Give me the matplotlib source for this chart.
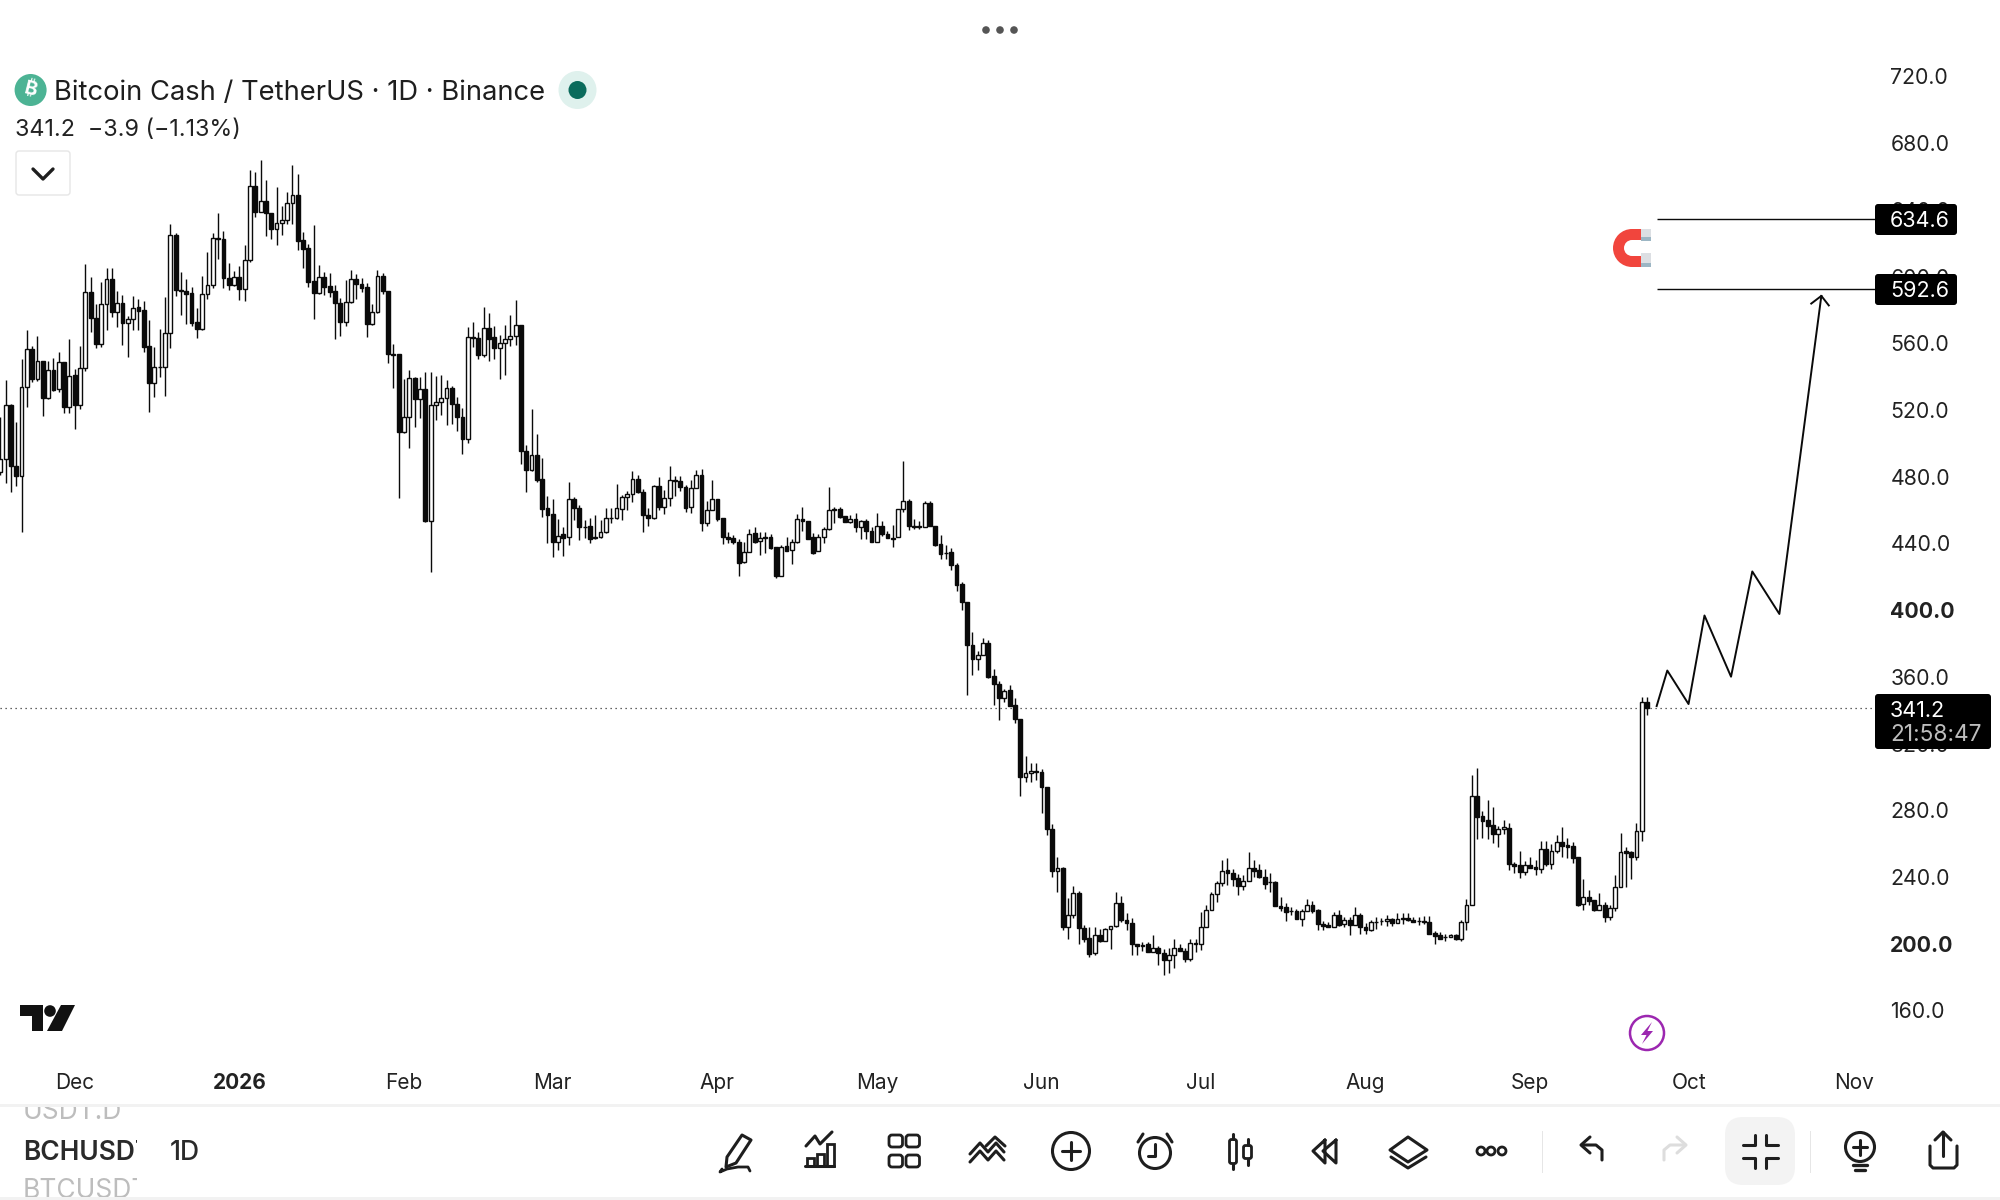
import numpy as np
import matplotlib
matplotlib.use("Agg")
import matplotlib.pyplot as plt
from matplotlib.patches import Circle, FancyBboxPatch, Rectangle, Wedge, Polygon

plt.rcParams['font.family'] = ['Inter', 'DejaVu Sans']

# candles, one per day, oldest first
open_read = [484.4,491.7,524.2,487.7,482,534.7,557.4,539.9,550.2,528.1,
544.9,533.5,549.6,522.8,541.9,524,546.1,591.4,575.9,560.4,
584.3,599.2,579.9,585.3,573.3,575.3,582.5,580.7,559.4,537.1,
546.8,547,566.9,625.5,592.6,592,590.8,573.5,569.3,590.2,
595.6,623.7,623.1,599.8,596,600.4,593.6,610.5,654.7,639.6,
645.8,638.6,629.4,632.6,634.8,644.6,649.2,622.7,617.7,598.2,
591.2,600.4,595.2,592.2,584.8,573.9,585.4,599.6,596.2,594.4,
572.7,579.5,601,592,554.8,554.4,508.2,517.2,540.5,527.9,
533.5,454.9,524,526.1,528.1,534.1,524.9,517.2,504,564.6,
564,554.2,569.9,564.6,558.4,561,563.4,565.1,571.7,496.9,
485.4,494.1,479.8,462.5,459.1,442.6,447.1,445.2,467.9,462.5,
451.5,452,444.6,445.6,448.2,456.5,456.5,461.9,469,470.9,
479.8,472,458.3,456.9,475.6,463.5,468.5,479.2,478.6,475,
463.1,474.4,482.2,453.9,461.3,467.9,456.7,445.6,444.6,442.4,
430.3,436.2,447.6,442.8,445.2,445.2,439.4,422.3,440,437.4,
442.2,455.9,454.9,445.2,436.8,445.2,450,461.7,462.1,457.7,
454.1,456.3,451.2,454.7,448.8,442.2,451.8,446.8,445,445.2,
462.3,466.7,451.8,451.6,451.2,465.7,451.8,441,436,436.2,
428.7,417.4,406.4,380.7,372.4,374.8,381.9,362.2,357.5,348.9,
353.9,344.9,336.8,301.9,304.3,305.5,304.9,296,270.9,245.8,
247.8,212.2,219.5,232.9,211.8,206,196.9,207.6,204.4,211.2,
213,226.7,216.5,214.8,202.2,201,202.4,197.5,199.9,196.9,
192.7,195.7,199.9,198.3,193.3,203.2,202.2,212.4,222.5,232.1,
238.6,246.4,244.6,241.6,237.2,240.2,247.6,246.6,242.4,239.4,
239.2,225.3,224.3,221.9,222.3,217.5,222.3,225.9,222.7,214,
213.4,212.2,219.5,214.2,216.5,213.4,219.5,212.4,210.4,215.4,
216,216.1,217.1,214.8,217.1,218.1,216.9,216,215.9,215.3,
208.6,207.6,206.5,206.6,207.4,205.4,215.3,225.4,290.5,278.8,
276.2,273.2,267.8,270.8,271.6,250.3,249.3,245.5,249.3,248.1,
246.9,258.9,250.3,258.1,263.1,261.3,260.9,254.1,226,230.2,
228.6,222.7,225.4,218.7,223.7,236.2,257.7,257.3,254.5,269.6,
346.6]
close_read = [491.7,524.2,487.4,482,534.7,557.4,539.9,550.2,528.1,544.9,
533.1,549.6,522.8,541.7,524,546.1,591.4,575.9,560.4,584.3,
599.2,579.9,585.3,573.3,575.3,582.3,580.5,559,537.1,547,
547,566.9,625.5,592.6,592,590.6,573.3,569.3,590.2,595.6,
624.1,623.1,599.8,596,600.4,593.6,610.5,654.7,639.6,645.8,
638.6,629.4,632.6,634.8,644.6,649.2,622,617.5,597.8,591.2,
600.4,594.8,591.8,584.8,573.9,585.4,599.6,596.2,594.2,572.7,
579.5,601,592,554.8,553.8,508.2,517.2,540.5,527.9,533.5,
454.9,524,526.1,528.1,534.1,524.9,517.2,504,564.6,564,
554.2,569.9,563.8,558.4,561,563.4,565.1,571.7,496.9,485.4,
494.1,479.4,462.3,458.5,442.6,446.2,445,467.8,462.9,451.2,
451,444.4,445.4,448,456.5,456.7,462.5,469,470.9,479.8,
471.9,458.3,456.9,475.6,463.5,468.5,479.2,478.6,475,462.9,
474.4,482.2,453.9,461.3,467.9,456.3,445.6,444.4,442.6,430,
436.2,447,442.4,444.6,444.6,439,422.1,439.6,437.2,442.2,
455.9,454.9,444.4,436,445.2,450,461.3,462.1,457.5,454.1,
455.9,451.2,454.7,448.8,442.2,451.6,446.8,444.8,444.4,462.3,
466.7,451.6,451.2,451,465.5,451.6,440.8,435.4,435.6,428.3,
416.9,406.4,380.7,372.4,374.8,381.9,362,357.3,348.9,353.3,
344.7,336.4,302.3,304.3,305.5,304.9,295.8,270.7,245.8,247.6,
212.2,219.5,232.7,211.8,205.6,196.5,207.6,204.4,211.2,213,
226.7,216.4,214.8,202.2,201,202,197.3,199.9,196.9,192.5,
195.7,199.9,197.9,193.3,203.2,202.2,212.4,222.5,232.1,238.6,
246.2,244.6,241.4,237.2,239.8,247.6,246.2,242.6,238.2,239.2,
225.3,224.1,221.7,222,217.5,222.3,225.9,222.3,214,213.2,
212.2,219.5,213.8,216.5,213.4,219.5,212.4,210.4,215.3,215.6,
216.2,217.1,215.1,217.1,218.1,216.9,215.3,215.8,215.3,208.4,
206.8,205.6,206.7,207.6,205.4,215.3,225.5,290.5,278.4,276,
273,267.8,270.8,272,250.3,249.1,245.5,249.3,247.9,246.9,
258.9,250.3,258.1,263.1,261.1,260.5,253.9,225.8,230.2,228.2,
222.7,225.4,218.5,223.7,236.2,257.5,256.9,254.5,269.6,346.6,
343]
high_read = [517.2,539.1,524.8,514.2,551.4,568.9,559.4,565.4,550.6,550.6,
552,555.8,549.6,563.6,545.7,559.4,608.1,600.8,584.5,597.6,
606,606,592.2,589.8,577.3,589.2,587.4,586.3,574.9,559,
569.5,588.6,632,626.6,603.6,599.4,594.4,582.1,601.2,615.5,
626.6,638.6,628,608.7,604.2,607.1,619.7,664.5,663.1,670.4,
658.5,639,654.1,643,651.1,667.3,661.8,627.2,620.3,631.6,
607.5,603.8,603.2,595.8,587.8,598.8,604.6,602.2,599.8,596.8,
584.4,604.6,602.8,592,560.4,554.4,539.7,545,541.1,540.7,
543.7,543.7,541.5,542.1,539.1,535.5,529.1,522.2,570.5,573.7,
567.7,582.5,578.9,571.1,565.9,571.7,577.9,586.8,571.7,500.1,
521.6,506.6,492.5,469.8,468,456.1,451.3,478.4,469,464.5,
455.5,456.5,458.5,455.5,462.5,462.5,477,470.5,472.5,485,
482.4,473.8,462.5,476.4,481.4,473.5,487.8,481.8,481.8,476.4,
479.4,485.4,486,467,479.4,467.9,456.7,448,446.6,444,
442.2,450,451.2,448,448,447.2,439.4,440.6,445.6,444.4,
459.1,463.3,454.9,447.6,447.2,451.2,475.2,463.1,463.5,457.7,
458.5,459.5,455.5,455.9,451.2,459.5,455,448.8,452.4,462.3,
490.8,467.9,455.9,455,466.7,466.7,451.8,446.6,440.4,438.6,
430,418.5,406.4,388.5,377.4,384.9,383.7,366.4,359.6,354.7,
357.1,349.1,336.8,314.7,310.3,310.3,306.7,296,273.9,254.2,
248.2,229.9,236.7,234.1,213.8,212.2,212.4,211.4,211.8,213,
233.3,230.7,220.7,217.8,202.2,203.4,203.4,207.8,201.2,199.3,
199.9,205.4,202.4,200.2,205.2,205.2,221.3,225.7,233.1,240,
252.2,253.6,247,244.2,243.6,257.1,252.6,250.2,247.2,244.8,
240.2,230.1,226.7,224.7,223.3,223.1,229.1,228.1,223.1,216.1,
215.2,221.5,222.7,218.3,218.3,224.3,220.7,214.7,216.7,218.7,
217.7,219.7,218.1,220.7,221.1,221.1,218.7,218.7,219.1,218.9,
210,209.4,208,208.2,208,216.7,229.1,303.3,307.2,282,
288.3,284,272.8,276.4,274.4,251.5,257.7,251.7,254.1,252.5,
263.7,263.7,262.1,267.4,272.4,265.4,263.5,254.1,241.2,234.6,
228.6,232.6,227.6,225.6,243.6,268.4,260.5,258.1,274.4,349.6,
350]
low_read = [482.4,477.4,472.4,476,448.5,522.8,538.1,538.7,517.8,527.5,
532.7,532.1,519.2,519.6,510,521.6,544.7,567.4,558.4,559,
568.9,576.9,570.9,560,553,568.9,568.9,555.6,520.2,529.1,
541.1,529.7,558.4,589.4,577.9,572.7,571.5,564.4,568.9,587.6,
594.2,611.5,594.2,592.6,595,586.8,586.4,609.7,636.6,639.2,
625.1,623.5,619.9,625.9,632.4,632,616.5,606.1,594.8,575.7,
590.4,590,588.8,563.8,565.3,571.3,585.2,587.4,591.8,565,
572.1,578.9,590.4,549.4,534.5,468.8,507.6,498.7,511.2,516.6,
454.1,424.7,515.2,518.2,512.2,512.8,508.8,494.9,501.7,559,
551.8,553,550.6,551.8,539.9,542.1,559.4,560,488.9,472.4,
485,478.4,457.1,441.6,433.4,437.6,434.2,440.6,455.5,443.6,
444.6,442,444.2,444.6,447.6,453.5,456.3,455.5,461.5,466.5,
471.5,448,451.6,456.3,461.5,459.1,463.9,469.9,473,460.5,
459.9,474.4,448.6,452,461.3,455.1,441.2,441.6,441.2,422.1,
430,436.2,441.6,434.6,436,438.4,421.1,422.3,437.2,429.3,
441.6,448.6,444.4,435.2,436.8,441.6,449.2,453.5,456.5,454.1,
453.5,448,444.4,444.4,442.2,442.2,446,444.8,439.2,445.2,
460.3,449.6,450,450,451.2,451.6,440,432.1,432.1,425.7,
412.8,401.8,350.7,363.2,366,374.8,361.4,345.3,335.8,346.7,
344.7,334.2,290.4,298.8,299.3,300,280.8,267.5,242.2,233.1,
210.4,205.2,218.1,202.2,203.8,194.5,195.7,203.8,204,199.4,
212.4,215.4,210.8,195.5,195.5,198.4,197.3,197.5,189.5,184.1,
185.3,187.7,197.9,191.3,191.9,197.3,198.8,212.4,222.5,227.1,
236.7,237.3,237.2,231.7,234.3,240.2,242.2,241.6,235.1,233.2,
225.3,222.3,216.1,219.7,217.1,212.8,222.3,221.1,210.8,210.4,
212.2,212.2,213.2,212.4,207.4,213.4,208,208.4,209.8,211.2,
213.8,212.8,213.2,214.8,214.2,216.1,215.3,213.8,214.3,208.4,
202.6,205.4,204.4,206.6,205,204.4,210.8,225.4,264.8,265.4,
264.8,262.9,260.5,268,246.5,244.9,242,243.6,247.5,243.6,
244.9,249.1,247.3,256.5,254.5,253.9,250.5,225,222.7,225.6,
222.3,222.7,215.7,216.7,222.3,236.2,236.2,241.4,252.5,264,
339]

price_ticks = [160,200,240,280,320,360,400,440,480,520,560,600,640,680,720]
bold_prices = [200,400]
month_idx = [14,45,76,104,135,165,196,226,257,288,318,349]
month_names = ['Dec','2026','Feb','Mar','Apr','May','Jun','Jul','Aug','Sep','Oct','Nov']

last_price = 341.2
level_top = 634.6
level_bottom = 592.6
# hand drawn path from the last candle up to the target
path_idx = [311.8,313.8,317.8,320.8,325.8,329.8,334.9,342.8]
path_price = [342.5,363.8,343.7,396.8,360.1,423.2,397.7,588.4]
head_idx = [340.9,342.8,344.2]
head_price = [583.8,588.4,582.7]


def to_axis(v):
    # readings were taken with a ruler of 1.675 px per unit, the axis has 1.668
    return 719.7 - 1.0042 * (720 - np.array(v))


opens = to_axis(open_read)
closes = to_axis(close_read)
highs = to_axis(high_read)
lows = to_axis(low_read)
days = np.arange(len(opens))
ink = '#0a0a0a'

fig = plt.figure(figsize=(20, 12), dpi=100)
ax = fig.add_axes([0, 1 - 1060 / 1200, 1875 / 2000, 1060 / 1200])
ax.set_xlim(-0.056, 352.9)
ax.set_ylim(130.3, 765.8)
for s in ax.spines.values():
    s.set_visible(False)

ax.axhline(last_price, color='#333333', lw=0.9, ls=(0, (1, 3)), zorder=1)
ax.vlines(days, lows, highs, color=ink, lw=1.0, zorder=2)
up = closes >= opens
ax.bar(days[up], (closes - opens)[up], bottom=opens[up], width=0.72,
       facecolor='white', edgecolor=ink, lw=1.0, zorder=3)
ax.bar(days[~up], (closes - opens)[~up], bottom=opens[~up], width=0.72,
       facecolor=ink, edgecolor=ink, lw=1.0, zorder=3)

ax.plot(path_idx, path_price, color=ink, lw=1.4, zorder=4)
ax.plot(head_idx, head_price, color=ink, lw=1.4, zorder=4)
ax.hlines([level_top, level_bottom], 311.8, 352.9, color=ink, lw=1.0, zorder=4)

ax.yaxis.tick_right()
ax.set_yticks(price_ticks)
ax.set_yticklabels(['%.1f' % p for p in price_ticks], fontsize=15.3, color='#222222')
ax.tick_params(axis='y', length=0, pad=11)
for lab, p in zip(ax.get_yticklabels(), price_ticks):
    if p in bold_prices:
        lab.set_fontweight('bold')
ax.set_xticks(month_idx)
ax.set_xticklabels(month_names, fontsize=15, color='#222222')
ax.tick_params(axis='x', length=0, pad=9.5)
ax.get_xticklabels()[1].set_fontweight('bold')

# everything else sits on an overlay in screen pixels
ui = fig.add_axes([0, 0, 1, 1], zorder=5)
ui.set_xlim(0, 2000)
ui.set_ylim(1200, 0)
ui.axis('off')
ui.patch.set_alpha(0)


def stroke(xs, ys, lw=2.2, color='#1e1e1e'):
    ui.plot(xs, ys, color=color, lw=lw, solid_capstyle='round', solid_joinstyle='round')


def tag(x0, y0, x1, y1):
    ui.add_patch(FancyBboxPatch((x0 + 3, y0 + 3), x1 - x0 - 6, y1 - y0 - 6,
                                boxstyle='round,pad=3,rounding_size=3', fc='black', ec='none'))


# price tags
tag(1875, 204, 1957, 235)
ui.text(1890, 221, '634.6', color='white', fontsize=15.5, va='center')
tag(1875, 274, 1957, 305)
ui.text(1890, 291, '592.6', color='white', fontsize=15.5, va='center')
tag(1875, 694, 1991, 749)
ui.text(1890, 711, '341.2', color='white', fontsize=15.5, va='center')
ui.text(1890, 735, '21:58:47', color='#bdbdbd', fontsize=16.3, va='center')

# header
for cx in (986, 1000, 1014):
    ui.add_patch(Circle((cx, 30), 3.8, fc='#555555', ec='none'))
ui.add_patch(Circle((30.6, 90), 16, fc='#4cb394', ec='none'))
ui.text(30.6, 90, '\u20bf', color='white', fontsize=14, ha='center', va='center', rotation=-14,
        family=['Inter', 'Noto Sans', 'Roboto', 'Open Sans', 'Lato', 'DejaVu Sans'], fontweight='bold')
ui.text(54, 93, 'Bitcoin Cash / TetherUS \u00b7 1D \u00b7 Binance', fontsize=19.7, color='#1e1e1e', va='center')
ui.add_patch(Circle((577.5, 90), 19, fc='#dff1ed', ec='none'))
ui.add_patch(Circle((577.5, 90), 9, fc='#0b6b5c', ec='none'))
ui.text(15, 130, '341.2  \u22123.9 (\u22121.13%)', fontsize=16.8, color='#222222', va='center')
ui.add_patch(FancyBboxPatch((18, 153), 50, 40, boxstyle='round,pad=2,rounding_size=3', fc='white', ec='#e6e6e6', lw=1))
stroke([33, 43, 53], [169, 179, 169], lw=2.4)

# magnet
ui.add_patch(Wedge((1632, 248), 19, 90, 270, width=11, fc='#f1453d', ec='none'))
ui.add_patch(Rectangle((1632, 229), 9, 11, fc='#f1453d', ec='none'))
ui.add_patch(Rectangle((1632, 256), 9, 11, fc='#f1453d', ec='none'))
ui.add_patch(Rectangle((1641, 229), 10, 8, fc='#dcdfe3', ec='none'))
ui.add_patch(Rectangle((1641, 237), 10, 3.5, fc='#9cb6c4', ec='none'))
ui.add_patch(Rectangle((1641, 253), 10, 10, fc='#dcdfe3', ec='none'))
ui.add_patch(Rectangle((1641, 263), 10, 4, fc='#9cb6c4', ec='none'))

# tradingview mark
ui.add_patch(Polygon([(20, 1005), (43, 1005), (43, 1031), (32, 1031), (32, 1016), (20, 1016)], fc='#111111', ec='none'))
ui.add_patch(Circle((50, 1011), 5.8, fc='#111111', ec='none'))
ui.add_patch(Polygon([(61, 1005), (75, 1005), (62, 1031), (47, 1031)], fc='#111111', ec='none'))

# lightning badge
ui.add_patch(Circle((1647, 1033), 17, fc='white', ec='#9c27b0', lw=1.8))
ui.add_patch(Polygon([(1652, 1022), (1641, 1035), (1646.5, 1035), (1642, 1044), (1653, 1031), (1647.5, 1031)], fc='#9c27b0', ec='none'))

# bottom bar
ui.add_patch(Rectangle((0, 1104), 2000, 3, fc='#f2f2f2', ec='none'))
ui.add_patch(Rectangle((0, 1197), 2000, 3, fc='#f2f2f2', ec='none'))
clip_bar = Rectangle((0, 1107), 137, 90, transform=ui.transData)
for y, name, col, wt in [(1112, 'USDT.D', '#bdbdbd', 'normal'), (1153, 'BCHUSDT', '#2a2a2a', 'semibold'),
                         (1191, 'BTCUSDT', '#bdbdbd', 'normal')]:
    t = ui.text(23, y, name, fontsize=19, color=col, va='center', fontweight=wt)
    t.set_clip_on(True)
    t.set_clip_path(clip_bar)
ui.text(170, 1153, '1D', fontsize=19, color='#2a2a2a', va='center', fontweight='medium')

# toolbar icons
# pencil
ui.add_patch(Polygon([(742, 1135), (751, 1140), (736, 1163), (726, 1167), (727, 1157)], fc='none', ec='#1e1e1e', lw=2.2, joinstyle='round'))
stroke([722, 720, 727, 738, 748, 750], [1169, 1172, 1169, 1167, 1167, 1171], lw=2)
# indicators
for bx, h in [(807, 8), (817, 12), (827, 22)]:
    ui.add_patch(Rectangle((bx, 1166 - h), 7, h, fc='none', ec='#1e1e1e', lw=2))
stroke([805, 834], [1166, 1166], lw=2.2)
stroke([806, 815, 820, 832], [1146, 1136, 1144, 1132], lw=2.2)
# grid
for gx in (889, 906):
    for gy in (1135, 1155):
        ui.add_patch(FancyBboxPatch((gx + 3, gy + 3), 7.5, 6, boxstyle='round,pad=3,rounding_size=3', fc='none', ec='#1e1e1e', lw=2))
# trend
stroke([970, 980, 988, 996, 1004], [1154, 1143, 1152, 1143, 1152])
stroke([970, 980, 988, 996, 1004], [1162, 1151, 1160, 1151, 1160])
stroke([986, 995, 1005], [1146, 1137, 1146])
# plus in circle
ui.add_patch(Circle((1071, 1151), 18.5, fc='none', ec='#1e1e1e', lw=2.2))
stroke([1071, 1071], [1142, 1160])
stroke([1062, 1080], [1151, 1151])
# alarm
ui.add_patch(Circle((1155, 1153), 15.5, fc='none', ec='#1e1e1e', lw=2.2))
stroke([1155, 1155, 1148], [1144, 1156, 1156])
stroke([1138, 1143], [1142, 1134])
stroke([1172, 1167], [1142, 1134])
# bars
ui.add_patch(FancyBboxPatch((1231, 1141), 4, 21, boxstyle='round,pad=1.5,rounding_size=2', fc='none', ec='#1e1e1e', lw=2))
ui.add_patch(FancyBboxPatch((1245, 1147), 5, 10, boxstyle='round,pad=1.5,rounding_size=2', fc='none', ec='#1e1e1e', lw=2))
stroke([1233, 1233], [1134, 1139])
stroke([1233, 1233], [1164, 1169])
stroke([1247.5, 1247.5], [1139, 1145])
stroke([1247.5, 1247.5], [1159, 1165])
# rewind
stroke([1325, 1313, 1325, 1325], [1140, 1151, 1163, 1140])
stroke([1336, 1323, 1336, 1336], [1140, 1151, 1163, 1140])
# layers
ui.add_patch(Polygon([(1408, 1137), (1427, 1150), (1408, 1162), (1390, 1150)], fc='none', ec='#1e1e1e', lw=2.2, joinstyle='round'))
stroke([1391, 1408, 1426], [1157, 1168, 1157])
# more
for cx in (1481, 1491, 1502):
    ui.add_patch(Circle((cx, 1151), 4, fc='none', ec='#1e1e1e', lw=2))
ui.add_patch(Rectangle((1541.5, 1131), 1, 42, fc='#e6e6e6', ec='none'))
# undo and redo
stroke([1602, 1602, 1596, 1582], [1160, 1150, 1145, 1145])
stroke([1590, 1581, 1590], [1137, 1145, 1153])
stroke([1664, 1664, 1670, 1685], [1160, 1150, 1145, 1145], color='#dddddd')
stroke([1677, 1686, 1677], [1137, 1145, 1153], color='#dddddd')
# collapse on its tile
ui.add_patch(FancyBboxPatch((1740, 1132), 40, 38, boxstyle='round,pad=15,rounding_size=18', fc='#f3f3f3', ec='none'))
stroke([1743, 1755, 1755], [1145, 1145, 1135])
stroke([1778, 1766, 1766], [1145, 1145, 1135])
stroke([1743, 1755, 1755], [1158, 1158, 1168])
stroke([1778, 1766, 1766], [1158, 1158, 1168])
ui.add_patch(Rectangle((1810, 1131), 1, 42, fc='#e6e6e6', ec='none'))
# bulb
ui.add_patch(Circle((1860, 1147), 14.5, fc='none', ec='#1e1e1e', lw=2.2))
stroke([1860, 1860], [1140, 1155])
stroke([1853, 1867], [1147, 1147])
stroke([1853, 1867], [1165, 1165], lw=2.4)
stroke([1855, 1865], [1170, 1170], lw=2.4)
# share
stroke([1930, 1930, 1933, 1954, 1957, 1957], [1146, 1165, 1168, 1168, 1165, 1146])
stroke([1943, 1943], [1156, 1132])
stroke([1935, 1943, 1951], [1140, 1132, 1140])

fig.savefig('out.png', dpi=100)
